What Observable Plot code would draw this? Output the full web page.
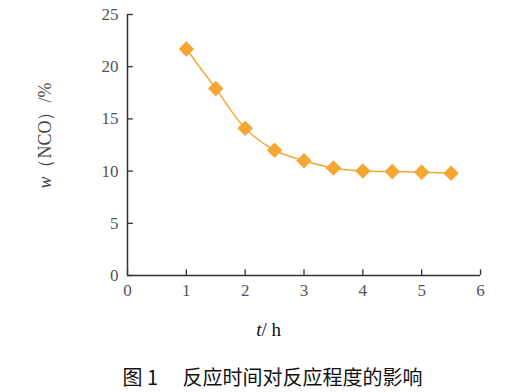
<!DOCTYPE html>
<html><head><meta charset="utf-8">
<script src="https://cdn.jsdelivr.net/npm/d3@7"></script>
<script src="https://cdn.jsdelivr.net/npm/@observablehq/plot@0.6"></script>
<style>
body{margin:0;background:#fff;}
#cap{font-family:"Noto Sans CJK SC",sans-serif;font-size:20px;color:#111;text-align:center;width:513px;margin-top:4px;margin-left:16px;white-space:pre;}
</style></head><body>
<div id="chart"></div>
<div id="cap">图 1　 反应时间对反应程度的影响</div>
<script>
const hours = [1, 1.5, 2, 2.5, 3, 3.5, 4, 4.5, 5, 5.5];
const nco = [21.7, 17.9, 14.1, 12.0, 11.0, 10.3, 10.0, 9.95, 9.9, 9.8];
const xTicks = [0, 1, 2, 3, 4, 5, 6];
const yTicks = [0, 5, 10, 15, 20, 25];
const xLabel = "t/ h";
const yLabel = "w（NCO）/%";
const data = hours.map((h, i) => ({h, v: nco[i]}));
const orange = "#F5A733";

const plot = Plot.plot({
  width: 513, height: 358,
  marginLeft: 127, marginRight: 33, marginTop: 14, marginBottom: 83,
  style: {background: "#fff"},
  x: {domain: [0, 6]},
  y: {domain: [0, 25]},
  marks: [
    Plot.axisY(yTicks, {tickSize: 0, tickPadding: 9, label: null, fill: "#555", fontSize: 17, className: "tk"}),
    Plot.axisX(xTicks, {tickSize: 0, tickPadding: 8, label: null, fill: "#555", fontSize: 17, className: "tk"}),
    Plot.ruleY(yTicks, {y: d => d, x1: 0, x2: 0.1, stroke: "#333", strokeWidth: 1.3}),
    Plot.ruleX(xTicks, {x: d => d, y1: 0, y2: 0.55, stroke: "#333", strokeWidth: 1.3}),
    Plot.ruleX([0], {stroke: "#333", strokeWidth: 1.5}),
    Plot.ruleY([0], {stroke: "#333", strokeWidth: 1.5}),
    Plot.line(data, {x: "h", y: "v", curve: "catmull-rom", stroke: orange, strokeWidth: 1.5}),
    Plot.dot(data, {x: "h", y: "v", symbol: "diamond2", r: 7, fill: orange, stroke: "none"}),
    Plot.text([xLabel], {x: 2.4, frameAnchor: "bottom", dy: 60, text: d => d, fontSize: 19, fill: "#111", className: "xlab"}),
    Plot.text([yLabel], {y: 13.4, frameAnchor: "left", textAnchor: "middle", dx: -82, rotate: -90, text: d => d, fontSize: 18, fill: "#444", className: "ylab"})
  ]
});
document.getElementById("chart").appendChild(plot);
d3.select(plot).style("font-family", "'Liberation Serif', serif");
d3.select(plot).selectAll("text, g").style("font-family", "'Liberation Serif', serif");
// italic variable letters
d3.select(plot).selectAll(".xlab text").each(function(){
  const t = d3.select(this); t.text("");
  t.append("tspan").attr("font-style","italic").text("t");
  t.append("tspan").text("/ h");
});
d3.select(plot).selectAll(".ylab text").each(function(){
  const t = d3.select(this); t.text("");
  t.append("tspan").attr("font-style","italic").text("w");
  t.append("tspan").text("（NCO）/%");
});
</script>
</body></html>
